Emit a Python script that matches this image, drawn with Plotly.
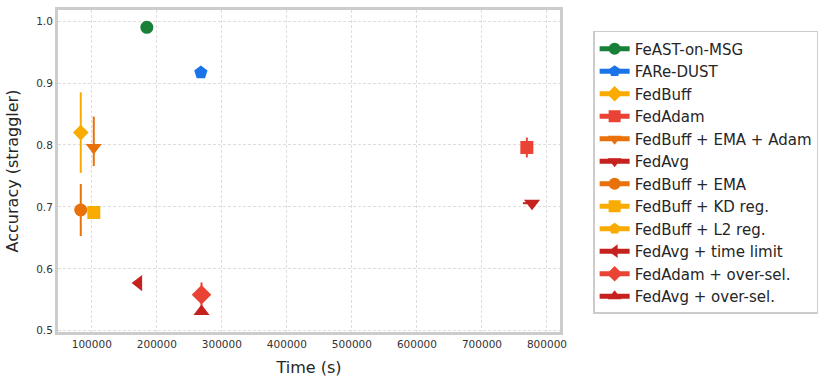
import plotly.graph_objects as go

# methods and results
names = ['FeAST-on-MSG', 'FARe-DUST', 'FedBuff', 'FedAdam', 'FedBuff + EMA + Adam',
         'FedAvg', 'FedBuff + EMA', 'FedBuff + KD reg.', 'FedBuff + L2 reg.',
         'FedAvg + time limit', 'FedAdam + over-sel.', 'FedAvg + over-sel.']
times = [184600, 267700, 83000, 769000, 103000, 777000, 83000, 103000, 103000,
         172000, 268700, 268700]
acc = [0.990, 0.917, 0.820, 0.796, 0.796, 0.706, 0.695, 0.691, 0.691,
       0.577, 0.558, 0.531]
err_plus = [0, 0, 0.065, 0.016, 0.050, 0, 0.042, 0, 0, 0, 0.020, 0]
err_minus = [0, 0, 0.065, 0.016, 0.030, 0, 0.042, 0, 0, 0, 0.020, 0]
time_err_minus = [0, 0, 0, 0, 0, 14000, 0, 0, 0, 0, 0, 0]

colors = ['#188038', '#1a73e8', '#f9ab00', '#ea4335', '#e8710a', '#c5221f',
          '#e8710a', '#f9ab00', '#f9ab00', '#c5221f', '#ea4335', '#c5221f']
symbols = ['circle', 'pentagon', 'diamond', 'square', 'triangle-down', 'triangle-down',
           'circle', 'square', 'pentagon', 'triangle-left', 'diamond', 'triangle-up']
sizes = [13, 14, 12, 13, 14, 14, 13, 13, 11, 14, 15, 14]

# draw L2 reg. first so it sits under the KD reg. square, like the original
draw_order = [8, 0, 1, 2, 3, 4, 5, 6, 7, 9, 10, 11]

fig = go.Figure()
for i in draw_order:
    fig.add_trace(go.Scatter(
        x=[times[i]], y=[acc[i]],
        mode='lines+markers',
        name=names[i],
        legendrank=i + 1,
        line=dict(color=colors[i], width=1.2),
        marker=dict(symbol=symbols[i], size=sizes[i], color=colors[i], line=dict(width=0)),
        error_y=dict(type='data', symmetric=False, array=[err_plus[i]],
                     arrayminus=[err_minus[i]], color=colors[i], thickness=2, width=0,
                     visible=err_plus[i] > 0 or err_minus[i] > 0),
        error_x=dict(type='data', symmetric=False, array=[0],
                     arrayminus=[time_err_minus[i]], color=colors[i], thickness=2, width=0,
                     visible=time_err_minus[i] > 0),
    ))

grid = dict(showgrid=True, gridcolor='#dedede', griddash='3px,2px', gridwidth=0.8,
            showline=True, linecolor='#cccccc', linewidth=3, mirror=True,
            zeroline=False, ticks='', tickfont=dict(size=10.5))

fig.update_layout(
    width=831, height=385,
    margin=dict(l=58, r=271, t=7, b=53),
    plot_bgcolor='white', paper_bgcolor='white',
    font=dict(family='DejaVu Sans', size=11, color='#333333'),
    legend=dict(
        x=1.066, y=0.935, xanchor='left', yanchor='top',
        font=dict(size=15, color='#262626'),
        bordercolor='#cccccc', borderwidth=1.5,
        itemsizing='constant', itemwidth=30,
    ),
    xaxis=dict(
        range=[48000, 820000],
        tick0=0, dtick=100000, tickformat='d',
        title=dict(text='Time (s)', font=dict(size=16, color='#262626'), standoff=14),
        **grid,
    ),
    yaxis=dict(
        range=[0.498, 1.018],
        tick0=0.5, dtick=0.1, tickformat='.1f',
        title=dict(text='Accuracy (straggler)', font=dict(size=16, color='#262626'), standoff=14),
        **grid,
    ),
)

# page body has an 8px margin by default; drop it so the figure fills the window
fig.write_html('out.html', config={'displayModeBar': False},
               post_script="document.body.style.margin='0';")
